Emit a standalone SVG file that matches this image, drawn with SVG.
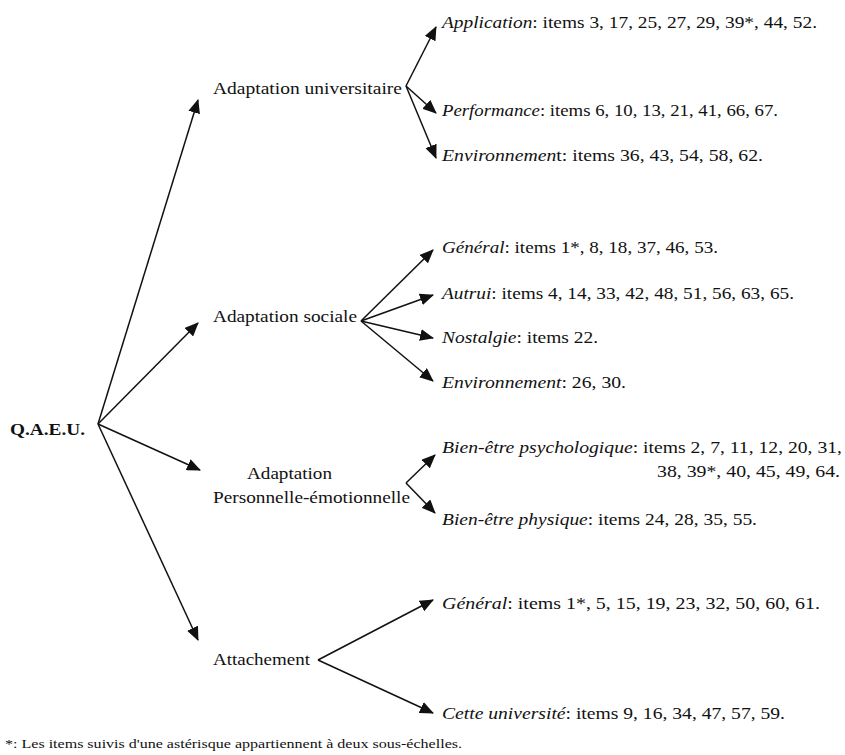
<svg xmlns="http://www.w3.org/2000/svg" width="845" height="755" viewBox="0 0 845 755" font-family="'Liberation Serif', 'DejaVu Serif', serif">
<defs>
<style>
text{font-family:"Liberation Serif","Times New Roman","DejaVu Serif",serif;font-size:17px;fill:#111}
.i{font-style:italic}
.b{font-weight:bold}
.fn{font-size:12px}
.c line{stroke:#111;stroke-width:1.5;marker-end:url(#ah)}
</style>
<marker id="ah" markerUnits="userSpaceOnUse" markerWidth="14" markerHeight="12" viewBox="0 0 14 12" refX="13" refY="6" orient="auto">
<path d="M0,0 L14,6 L0,12 Z" fill="#111"/>
</marker>
</defs>
<rect width="845" height="755" fill="#fff"/>
<g id="connectors" class="c">
<line x1="98" y1="424" x2="198" y2="100"/>
<line x1="98" y1="424" x2="198" y2="323"/>
<line x1="98" y1="424" x2="200" y2="470"/>
<line x1="98" y1="424" x2="198" y2="640"/>
<line x1="406" y1="86" x2="436" y2="27"/>
<line x1="406" y1="86" x2="436" y2="113"/>
<line x1="406" y1="86" x2="436" y2="158"/>
<line x1="361" y1="321" x2="433" y2="250"/>
<line x1="361" y1="321" x2="433" y2="295"/>
<line x1="361" y1="321" x2="433" y2="338"/>
<line x1="361" y1="321" x2="433" y2="381"/>
<line x1="406" y1="483" x2="435" y2="455"/>
<line x1="406" y1="483" x2="435" y2="513"/>
<line x1="318" y1="660" x2="433" y2="600"/>
<line x1="318" y1="660" x2="433" y2="713"/>
</g>
<g id="root"><text class="b" x="10" y="435" textLength="75" lengthAdjust="spacingAndGlyphs">Q.A.E.U.</text></g>
<g id="n-univ"><text x="213" y="94" textLength="189" lengthAdjust="spacingAndGlyphs">Adaptation universitaire</text></g>
<g id="n-sociale"><text x="213" y="322" textLength="144" lengthAdjust="spacingAndGlyphs">Adaptation sociale</text></g>
<g id="n-perso"><text x="247" y="479" textLength="85" lengthAdjust="spacingAndGlyphs">Adaptation</text><text x="213" y="503" textLength="197" lengthAdjust="spacingAndGlyphs">Personnelle-émotionnelle</text></g>
<g id="n-attach"><text x="213" y="665" textLength="97" lengthAdjust="spacingAndGlyphs">Attachement</text></g>
<g id="l-application"><text x="442" y="28" textLength="375" lengthAdjust="spacingAndGlyphs"><tspan class="i">Application</tspan>: items 3, 17, 25, 27, 29, 39*, 44, 52.</text></g>
<g id="l-performance"><text x="442" y="116" textLength="336" lengthAdjust="spacingAndGlyphs"><tspan class="i">Performance</tspan>: items 6, 10, 13, 21, 41, 66, 67.</text></g>
<g id="l-env1"><text x="442" y="161" textLength="321" lengthAdjust="spacingAndGlyphs"><tspan class="i">Environnemen</tspan>t: items 36, 43, 54, 58, 62.</text></g>
<g id="l-general1"><text x="442" y="253" textLength="276" lengthAdjust="spacingAndGlyphs"><tspan class="i">Général</tspan>: items 1*, 8, 18, 37, 46, 53.</text></g>
<g id="l-autrui"><text x="442" y="299" textLength="352" lengthAdjust="spacingAndGlyphs"><tspan class="i">Autrui</tspan>: items 4, 14, 33, 42, 48, 51, 56, 63, 65.</text></g>
<g id="l-nostalgie"><text x="442" y="343" textLength="156" lengthAdjust="spacingAndGlyphs"><tspan class="i">Nostalgie</tspan>: items 22.</text></g>
<g id="l-env2"><text x="442" y="388" textLength="184" lengthAdjust="spacingAndGlyphs"><tspan class="i">Environnement</tspan>: 26, 30.</text></g>
<g id="l-psycho"><text x="442" y="453" textLength="400" lengthAdjust="spacingAndGlyphs"><tspan class="i">Bien-être psychologique</tspan>: items 2, 7, 11, 12, 20, 31,</text><text x="657" y="477" textLength="183" lengthAdjust="spacingAndGlyphs">38, 39*, 40,  45, 49, 64.</text></g>
<g id="l-physique"><text x="442" y="525" textLength="315" lengthAdjust="spacingAndGlyphs"><tspan class="i">Bien-être physique</tspan>: items 24, 28, 35, 55.</text></g>
<g id="l-general2"><text x="442" y="609" textLength="378" lengthAdjust="spacingAndGlyphs"><tspan class="i">Général</tspan>: items 1*, 5, 15, 19, 23, 32, 50, 60, 61.</text></g>
<g id="l-cette"><text x="442" y="719" textLength="343" lengthAdjust="spacingAndGlyphs"><tspan class="i">Cette université</tspan>: items 9, 16, 34, 47, 57, 59.</text></g>
<g id="footnote"><text class="fn" x="5" y="748" textLength="457" lengthAdjust="spacingAndGlyphs">*: Les items suivis d'une astérisque appartiennent à deux sous-échelles.</text></g>
</svg>
